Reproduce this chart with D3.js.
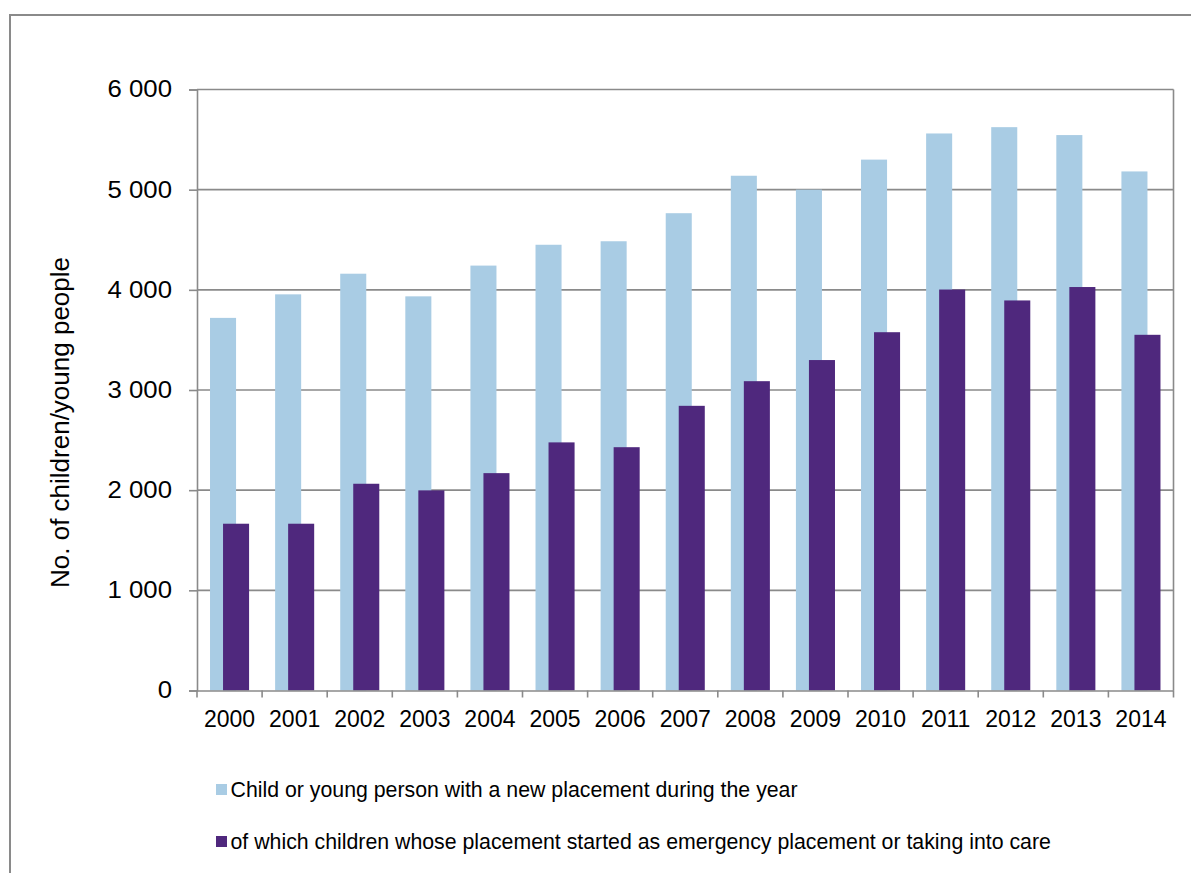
<!DOCTYPE html>
<html>
<head>
<meta charset="utf-8">
<script src="https://cdn.jsdelivr.net/npm/d3@7"></script>
<style>
  html, body { margin: 0; padding: 0; background: #fff; }
  svg { display: block; }
  text { font-family: "Liberation Sans", Arial, sans-serif; fill: #000; }
</style>
</head>
<body>
<svg id="chart" width="1191" height="873"></svg>
<script>
const years = ["2000","2001","2002","2003","2004","2005","2006","2007","2008","2009","2010","2011","2012","2013","2014"];
const newPlacements = [3720, 3955, 4161, 3935, 4242, 4450, 4485, 4765, 5139, 5000, 5300, 5561, 5624, 5545, 5182];
const emergencyPlacements = [1665, 1665, 2064, 1998, 2170, 2477, 2429, 2842, 3088, 3299, 3577, 4003, 3894, 4028, 3551];
const yTicks = [0, 1000, 2000, 3000, 4000, 5000, 6000];
const seriesNames = [
  "Child or young person with a new placement during the year",
  "of which children whose placement started as emergency placement or taking into care"
];
const colors = ["#A9CCE4", "#4F287D"];
const yTitle = "No. of children/young people";

const svg = d3.select("#chart");
const W = 1191, H = 873;
const plot = { left: 197, right: 1173.5, top: 89.5, bottom: 690.5 };
const grid = "#8a8a8a";

// outer frame
svg.append("rect")
  .attr("x", 10).attr("y", 15)
  .attr("width", W + 20).attr("height", H + 20)
  .attr("fill", "none").attr("stroke", grid).attr("stroke-width", 2);

const x = d3.scaleBand().domain(years).range([plot.left, plot.right]).paddingInner(0).paddingOuter(0);
const y = d3.scaleLinear().domain([0, 6000]).range([plot.bottom, plot.top]);

const fmt = v => v === 0 ? "0" : d3.format(",")(v).replace(/,/g, " ");

// gridlines
svg.append("g").selectAll("line").data(yTicks.filter(d => d > 0)).join("line")
  .attr("x1", plot.left).attr("x2", plot.right)
  .attr("y1", d => y(d)).attr("y2", d => y(d))
  .attr("stroke", grid).attr("stroke-width", 1.6);

// right border
svg.append("line")
  .attr("x1", plot.right).attr("x2", plot.right)
  .attr("y1", plot.top).attr("y2", plot.bottom)
  .attr("stroke", grid).attr("stroke-width", 1.6);

// bars: gap width 100%, overlap 50%
const bw = x.bandwidth();
const barW = bw / 2.5;
const gapHalf = barW / 2;
svg.append("g").selectAll("rect").data(years).join("rect")
  .attr("x", d => x(d) + gapHalf)
  .attr("width", barW)
  .attr("y", (d, i) => y(newPlacements[i]))
  .attr("height", (d, i) => y(0) - y(newPlacements[i]))
  .attr("fill", colors[0]);
svg.append("g").selectAll("rect").data(years).join("rect")
  .attr("x", d => x(d) + gapHalf + barW / 2)
  .attr("width", barW)
  .attr("y", (d, i) => y(emergencyPlacements[i]))
  .attr("height", (d, i) => y(0) - y(emergencyPlacements[i]))
  .attr("fill", colors[1]);

// y axis
const yAxis = svg.append("g")
  .attr("transform", `translate(${plot.left},0)`)
  .call(d3.axisLeft(y).tickValues(yTicks).tickFormat(fmt).tickSize(8).tickPadding(17));
yAxis.select(".domain").attr("stroke", grid).attr("stroke-width", 1.6);
yAxis.selectAll(".tick line").attr("stroke", grid).attr("stroke-width", 1.6);
yAxis.selectAll(".tick text")
  .style("font-family", "'Liberation Sans', Arial, sans-serif")
  .style("font-size", "23px").attr("fill", "#000")
  .each(function() {
    const len = this.getComputedTextLength();
    d3.select(this).attr("textLength", len * 1.12).attr("lengthAdjust", "spacingAndGlyphs");
  });

// x axis
const xAxis = svg.append("g")
  .attr("transform", `translate(0,${plot.bottom})`)
  .call(d3.axisBottom(x).tickSize(0).tickPadding(20));
xAxis.select(".domain").attr("stroke", grid).attr("stroke-width", 1.6);
xAxis.selectAll(".tick text")
  .style("font-family", "'Liberation Sans', Arial, sans-serif")
  .style("font-size", "23px").attr("fill", "#000");
// category boundary tick marks
const bounds = years.map(d => x(d)).concat([plot.right]);
svg.append("g").selectAll("line").data(bounds).join("line")
  .attr("x1", d => d).attr("x2", d => d)
  .attr("y1", plot.bottom).attr("y2", plot.bottom + 7)
  .attr("stroke", grid).attr("stroke-width", 1.6);

// y title
svg.append("text")
  .attr("transform", `translate(69,422.5) rotate(-90)`)
  .attr("text-anchor", "middle")
  .style("font-size", "26px")
  .text(yTitle);

// legend
const legend = svg.append("g");
const ly = [797, 849];
seriesNames.forEach((name, i) => {
  legend.append("rect")
    .attr("x", 216).attr("y", ly[i] - 13)
    .attr("width", 11).attr("height", 11)
    .attr("fill", colors[i]);
  legend.append("text")
    .attr("x", 230.5).attr("y", ly[i])
    .style("font-size", "21.3px")
    .text(name);
});
</script>
</body>
</html>
